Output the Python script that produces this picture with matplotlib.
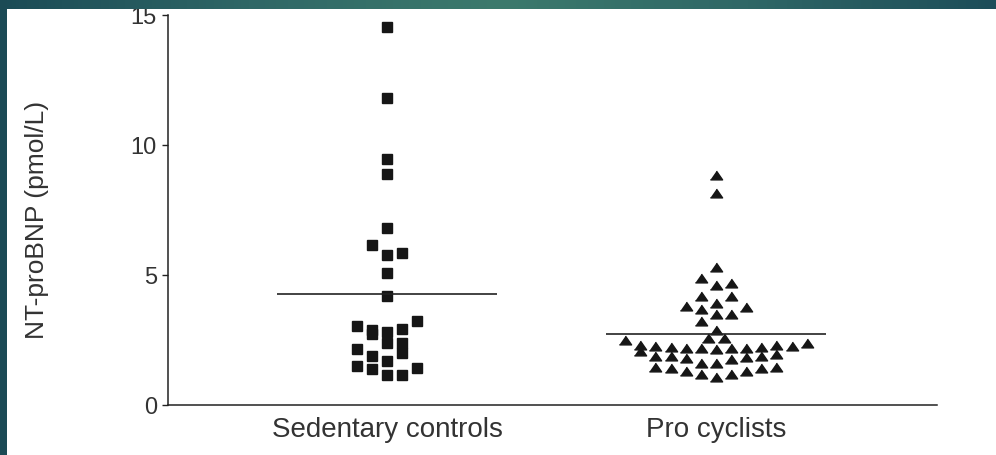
"""Column scatter of NT-proBNP in sedentary controls vs pro cyclists."""

import matplotlib

matplotlib.use("Agg")
import matplotlib.pyplot as plt
import numpy as np
from matplotlib.colors import LinearSegmentedColormap

plt.rcParams["font.family"] = ["Liberation Sans", "DejaVu Sans"]

# --- data ------------------------------------------------------------------
categories = ["Sedentary controls", "Pro cyclists"]

control_values = [
    14.55, 11.79, 9.44, 8.87, 6.78, 6.13, 5.75, 5.85, 5.08, 4.18,
    3.21, 3.02, 2.87, 2.70, 2.80, 2.92, 2.38, 2.38, 2.12, 1.86,
    1.99, 1.67, 1.50, 1.38, 1.42, 1.12, 1.12,
]
# column slot of each point inside the swarm (in marker widths)
control_slots = [
    0, 0, 0, 0, 0, -1, 0, 1, 0, 0,
    2, -2, -1, -1, 0, 1, 0, 1, -2, -1,
    1, 0, -2, -1, 2, 0, 1,
]

cyclist_values = [
    8.83, 8.14, 5.29, 4.87, 4.69, 4.59, 4.18, 4.18, 3.92, 3.80,
    3.77, 3.66, 3.47, 3.47, 3.21, 2.86, 2.55, 2.55,
    2.47,
    2.31, 2.06,
    2.25, 1.86, 1.44,
    2.21, 1.86, 1.39,
    2.16, 1.80, 1.29,
    2.16, 1.61, 1.16,
    2.12, 1.61, 1.05,
    2.16, 1.74, 1.16,
    2.19, 1.83, 1.29,
    2.21, 1.86, 1.39,
    2.29, 1.93, 1.44,
    2.25,
    2.38,
]
cyclist_slots = [
    0, 0, 0, -1, 1, 0, -1, 1, 0, -2,
    2, -1, 0, 1, -1, 0, -0.5, 0.5,
    -6,
    -5, -5,
    -4, -4, -4,
    -3, -3, -3,
    -2, -2, -2,
    -1, -1, -1,
    0, 0, 0,
    1, 1, 1,
    2, 2, 2,
    3, 3, 3,
    4, 4, 4,
    5,
    6,
]

mean_values = [4.24, 2.70]
y_ticks = [0, 5, 10, 15]

SLOT_WIDTH = 0.046
MEAN_HALF_WIDTH = 0.335

fig = plt.figure(figsize=(9.96, 4.56), dpi=100)
fig.patch.set_facecolor("white")

ax = fig.add_axes([168 / 996, 1 - 405.5 / 456, (937 - 168) / 996, 389.5 / 456])

positions = [1, 2]
tri = [(-1, -0.72), (1, -0.72), (0, 0.72)]

ax.plot(
    positions[0] + np.array(control_slots) * SLOT_WIDTH,
    control_values,
    linestyle="none",
    marker="s",
    markersize=7.8,
    color="#161616",
)
ax.plot(
    positions[1] + np.array(cyclist_slots) * SLOT_WIDTH,
    cyclist_values,
    linestyle="none",
    marker=tri,
    markersize=8.8,
    color="#161616",
)

for pos, mean in zip(positions, mean_values):
    ax.hlines(mean, pos - MEAN_HALF_WIDTH, pos + MEAN_HALF_WIDTH, color="#222222", linewidth=1.2)

ax.set_xlim(0.334, 2.672)
ax.set_ylim(0, 15)
ax.set_xticks(positions)
ax.set_xticklabels(categories, fontsize=20, color="#333333")
ax.set_yticks(y_ticks)
ax.set_yticklabels([str(t) for t in y_ticks], fontsize=17, color="#333333")
ax.tick_params(axis="x", length=0, pad=8)
ax.tick_params(axis="y", length=4, width=1.0, pad=4, color="#222222")
ax.set_ylabel("NT-proBNP (pmol/L)", fontsize=19, color="#333333")
ax.yaxis.set_label_coords(-0.155, 0.4756)

for side in ("top", "right"):
    ax.spines[side].set_visible(False)
for side in ("left", "bottom"):
    ax.spines[side].set_linewidth(1.1)
    ax.spines[side].set_color("#222222")

# slide background bands (top gradient strip and left strip)
band_cmap = LinearSegmentedColormap.from_list(
    "slide", ["#1b4b56", "#2f6766", "#3c7a6d", "#2f6766", "#1d4d59"]
)
top_band = fig.add_axes([0, 1 - 10 / 456, 1, 10 / 456], zorder=10)
top_band.imshow(np.linspace(0, 1, 256)[None, :], aspect="auto", cmap=band_cmap)
top_band.set_axis_off()

left_band = fig.add_axes([0, 0, 7 / 996, 1], zorder=10)
left_band.set_facecolor("#1b4a55")
left_band.set_xticks([])
left_band.set_yticks([])
for spine in left_band.spines.values():
    spine.set_visible(False)

fig.savefig("out.png", dpi=100)
